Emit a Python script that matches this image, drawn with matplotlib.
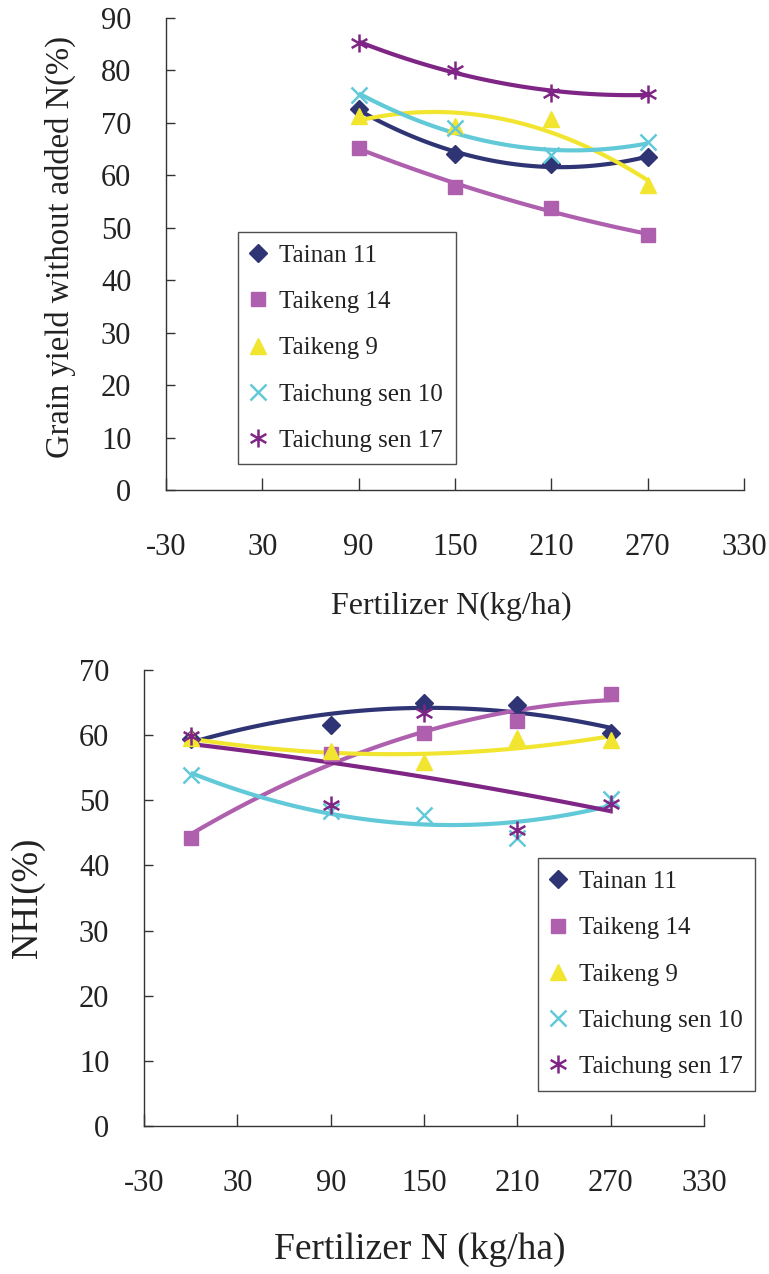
import numpy as np
import matplotlib
matplotlib.use("Agg")
import matplotlib.pyplot as plt
from matplotlib.path import Path

plt.rcParams['font.family'] = ['Liberation Serif', 'DejaVu Serif']
plt.rcParams['axes.unicode_minus'] = False

# ---- data ----
varieties = ["Tainan 11", "Taikeng 14", "Taikeng 9", "Taichung sen 10", "Taichung sen 17"]

# Grain yield without added N (%)
yield_n = [90, 150, 210, 270]
yield_tainan11 = [72.6, 64.0, 62.1, 63.4]
yield_taikeng14 = [65.3, 57.8, 53.8, 48.6]
yield_taikeng9 = [71.3, 69.4, 70.7, 58.2]
yield_taichung10 = [75.3, 69.0, 63.9, 66.4]
yield_taichung17 = [85.3, 80.1, 75.6, 75.5]

# Nitrogen harvest index (%)
nhi_n = [0, 90, 150, 210, 270]
nhi_tainan11 = [59.4, 61.6, 64.9, 64.6, 60.4]
nhi_taikeng14 = [44.2, 57.1, 60.3, 62.1, 66.3]
nhi_taikeng9 = [59.5, 57.6, 55.8, 59.5, 59.3]
nhi_taichung10 = [53.9, 48.3, 47.7, 44.2, 50.2]
nhi_taichung17 = [59.9, 49.2, 63.4, 45.5, 49.4]

x_ticks = [-30, 30, 90, 150, 210, 270, 330]

# ---- styles ----
colors = ['#2F3474', '#AE5FAE', '#F2E530', '#62C9D8', '#7E2585']
asterisk = Path([(0, -1), (0, 1), (-0.87, -0.5), (0.87, 0.5), (-0.87, 0.5), (0.87, -0.5)],
                [Path.MOVETO, Path.LINETO, Path.MOVETO, Path.LINETO, Path.MOVETO, Path.LINETO])
markers = ['D', 's', '^', 'x', asterisk]
msizes = [9, 10, 11, 12, 13]
spine_color = '#333333'


def style_axes(ax, ymax, ystep):
    ax.set_xlim(-30, 330)
    ax.set_ylim(0, ymax)
    ax.set_xticks(x_ticks)
    ax.set_yticks(np.arange(0, ymax + 1, ystep))
    for side in ('top', 'right'):
        ax.spines[side].set_visible(False)
    for side in ('left', 'bottom'):
        ax.spines[side].set_color(spine_color)
        ax.spines[side].set_linewidth(1.0)
    ax.tick_params(axis='x', direction='in', length=9, width=1.0, color=spine_color,
                   labelsize=22, pad=31, labelcolor='#222222')
    ax.tick_params(axis='y', direction='in', length=6.5, width=1.0, color=spine_color,
                   labelsize=22, pad=25, labelcolor='#222222')


def draw_series(ax, xs, series):
    x_arr = np.array(xs, dtype=float)
    xx = np.linspace(x_arr.min(), x_arr.max(), 60)
    handles = []
    for name, ys, c, m, ms in zip(varieties, series, colors, markers, msizes):
        coef = np.polyfit(x_arr, np.array(ys), 2)
        ax.plot(xx, np.polyval(coef, xx), color=c, lw=3.0, zorder=2, solid_capstyle='butt')
        filled = m in ('D', 's', '^')
        h, = ax.plot(xs, ys, linestyle='none', marker=m, markersize=ms,
                     color=c, markerfacecolor=c if filled else 'none',
                     markeredgecolor=c, markeredgewidth=1.0 if filled else 1.8,
                     zorder=3, label=name)
        handles.append(h)
    return handles


def add_legend(handles, anchor):
    leg = fig.legend(handles=handles, loc='upper left', bbox_to_anchor=anchor,
                     bbox_transform=fig.transFigure, frameon=True, fancybox=False,
                     edgecolor='#222222', fontsize=18, handlelength=0.6,
                     handletextpad=0.55, labelspacing=0.95, borderpad=0.5,
                     borderaxespad=0.0)
    leg.get_frame().set_linewidth(1.0)
    for t in leg.get_texts():
        t.set_color('#222222')
    return leg


fig = plt.figure(figsize=(7.69, 12.74), dpi=100)

# top panel: grain yield without added N
ax1 = fig.add_axes([0.2159, 0.6154, 0.7516, 0.3705])
style_axes(ax1, 90, 10)
h1 = draw_series(ax1, yield_n, [yield_tainan11, yield_taikeng14, yield_taikeng9,
                                yield_taichung10, yield_taichung17])
ax1.set_xlabel("Fertilizer N(kg/ha)", fontsize=23, color='#222222', va='center')
ax1.xaxis.set_label_coords(0.493, -0.2458)
ax1.set_ylabel("Grain yield without added N(%)", fontsize=23.5, color='#222222', va='center')
ax1.yaxis.set_label_coords(-0.183, 0.515)
add_legend(h1, (0.3095, 0.8179))

# bottom panel: nitrogen harvest index
ax2 = fig.add_axes([0.1873, 0.1162, 0.7282, 0.3579])
style_axes(ax2, 70, 10)
h2 = draw_series(ax2, nhi_n, [nhi_tainan11, nhi_taikeng14, nhi_taikeng9,
                              nhi_taichung10, nhi_taichung17])
ax2.set_xlabel("Fertilizer N (kg/ha)", fontsize=27, color='#222222', va='center')
ax2.xaxis.set_label_coords(0.493, -0.272)
ax2.set_ylabel("NHI(%)", fontsize=26.5, color='#222222', va='center')
ax2.yaxis.set_label_coords(-0.207, 0.5)
add_legend(h2, (0.6996, 0.3265))

fig.savefig("out.png", dpi=100, facecolor='white')
